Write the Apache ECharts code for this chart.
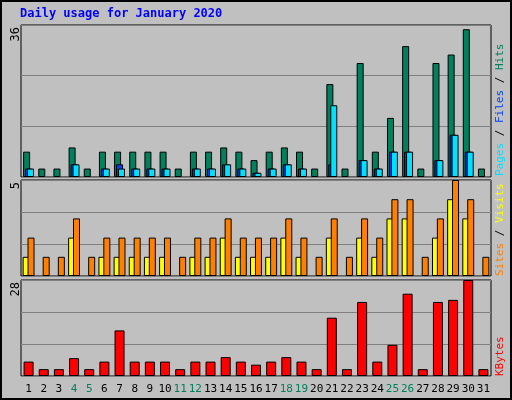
<!DOCTYPE html>
<html><head><meta charset="utf-8">
<script src="https://cdn.jsdelivr.net/npm/echarts@6/dist/echarts.min.js"></script>
<style>
html,body{margin:0;padding:0;background:#fff;}
#wrap{position:absolute;left:0;top:0;width:508px;height:396px;border:2px solid #000;background:#c0c0c0;box-sizing:content-box;}
#c{width:508px;height:396px;}
</style></head><body>
<div id="wrap"><div id="c"></div></div>
<script>
const days = ['1','2','3','4','5','6','7','8','9','10','11','12','13','14','15','16','17','18','19','20','21','22','23','24','25','26','27','28','29','30','31'];
const weekend = ['4','5','11','12','18','19','25','26'];
const hits  = [6,2,2,7,2,6,6,6,6,6,2,6,6,7,6,4,6,7,6,2,22,2,27,6,14,31,2,27,29,35,2];
const files = [2,0,0,3,0,2,3,2,2,2,0,2,2,3,2,1,2,3,2,0,3,0,4,2,6,6,0,4,10,6,0];
const pages = [2,0,0,3,0,2,2,2,2,2,0,2,2,3,2,1,2,3,2,0,17,0,4,2,6,6,0,4,10,6,0];
const sites = [1,0,0,2,0,1,1,1,1,1,0,1,1,2,1,1,1,2,1,0,2,0,2,1,3,3,0,2,4,3,0];
const visits= [2,1,1,3,1,2,2,2,2,2,1,2,2,3,2,2,2,3,2,1,3,1,3,2,4,4,1,3,5,4,1];
const kbytes= [4.2,2,2,5.2,2,4.2,13.3,4.2,4.2,4.2,2,4.2,4.2,5.5,4.2,3.3,4.2,5.5,4.2,2,17,2,21.6,4.2,9.1,24,2,21.6,22.2,28,2];
const maxHits = 36, maxVisits = 5, maxKB = 28;
const nz = a => a.map(v => v === 0 ? '-' : v);

const ch = echarts.init(document.getElementById('c'));
const L = 19, R = 19;
const grids = [
  {left:L, right:R, top:23, height:152},
  {left:L, right:R, top:178, height:96},
  {left:L, right:R, top:278, height:96}
];
const F = '11px "DejaVu Sans Mono"';
function xa(i, labels){
  return {gridIndex:i, type:'category', data:days, boundaryGap:true,
    axisLine:{show:false}, axisTick:{show:false},
    axisLabel:{show:labels, interval:0, margin:8, fontFamily:'DejaVu Sans Mono', fontSize:11,
      formatter:v=> weekend.includes(v) ? '{w|'+v+'}' : '{n|'+v+'}',
      rich:{w:{color:'#00805c',fontFamily:'DejaVu Sans Mono',fontSize:11},n:{color:'#000',fontFamily:'DejaVu Sans Mono',fontSize:11}}}};
}
function ya(i, max){
  return {gridIndex:i, type:'value', min:0, max:max, interval:max/3,
    axisLine:{show:false}, axisTick:{show:false}, axisLabel:{show:false},
    splitLine:{lineStyle:{color:'#808080', width:1}}};
}
const bs = {borderColor:'#000', borderWidth:1};
ch.setOption({
  backgroundColor:'#c0c0c0',
  animation:false,
  grid: grids.map(g=>Object.assign({show:true, backgroundColor:'#c0c0c0', borderColor:'#000', borderWidth:1}, g)),
  xAxis:[xa(0,false), xa(1,false), xa(2,true)],
  yAxis:[ya(0,maxHits), ya(1,maxVisits), ya(2,maxKB)],
  series:[
    {type:'bar', xAxisIndex:0, yAxisIndex:0, data:nz(hits), barWidth:7, barGap:'-72%', itemStyle:Object.assign({color:'#00805c'},bs)},
    {type:'bar', xAxisIndex:0, yAxisIndex:0, data:nz(files), barWidth:7, itemStyle:Object.assign({color:'#0040ff'},bs)},
    {type:'bar', xAxisIndex:0, yAxisIndex:0, data:nz(pages), barWidth:7, itemStyle:Object.assign({color:'#00e0ff'},bs)},
    {type:'bar', xAxisIndex:1, yAxisIndex:1, data:nz(sites), barWidth:7, barGap:'-30%', itemStyle:Object.assign({color:'#ffff00'},bs)},
    {type:'bar', xAxisIndex:1, yAxisIndex:1, data:nz(visits), barWidth:7, itemStyle:Object.assign({color:'#ff8000'},bs)},
    {type:'bar', xAxisIndex:2, yAxisIndex:2, data:nz(kbytes), barWidth:10, itemStyle:Object.assign({color:'#ff0000'},bs)}
  ],
  graphic:[
    {type:'text', left:18, top:6, style:{text:'Daily usage for January 2020', fill:'#0000ff', font:'bold 12px "DejaVu Sans Mono"'}},
    {type:'text', x:8, y:25, rotation:Math.PI/2, style:{text:String(maxHits), fill:'#000', font:'12px "DejaVu Sans Mono"', align:'right', verticalAlign:'top'}},
    {type:'text', x:8, y:180, rotation:Math.PI/2, style:{text:String(maxVisits), fill:'#000', font:'12px "DejaVu Sans Mono"', align:'right', verticalAlign:'top'}},
    {type:'text', x:8, y:280, rotation:Math.PI/2, style:{text:String(maxKB), fill:'#000', font:'12px "DejaVu Sans Mono"', align:'right', verticalAlign:'top'}},
    {type:'text', x:493, y:174, rotation:Math.PI/2, style:{text:'{p|Pages}{s| / }{f|Files}{s| / }{h|Hits}', align:'left', verticalAlign:'top', font:F,
      rich:{p:{fill:'#00e0ff',font:F},f:{fill:'#0040ff',font:F},h:{fill:'#00805c',font:F},s:{fill:'#000',font:F}}}},
    {type:'text', x:493, y:274, rotation:Math.PI/2, style:{text:'{s|Sites}{k| / }{v|Visits}', align:'left', verticalAlign:'top', font:F,
      rich:{s:{fill:'#ff8000',font:F},v:{fill:'#ffff00',font:F},k:{fill:'#000',font:F}}}},
    {type:'text', x:493, y:374, rotation:Math.PI/2, style:{text:'KBytes', fill:'#ff0000', align:'left', verticalAlign:'top', font:F}}
  ]
});
</script>
</body></html>
